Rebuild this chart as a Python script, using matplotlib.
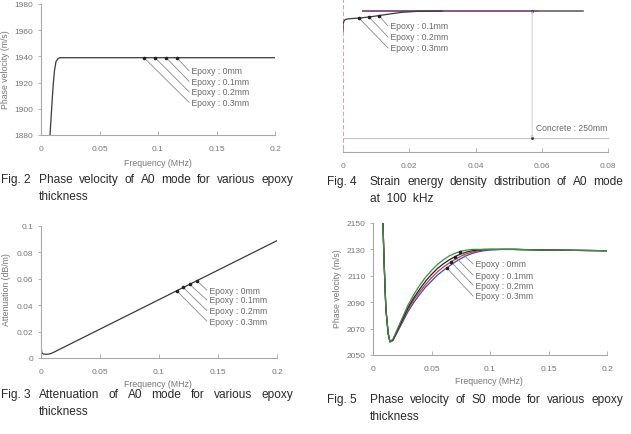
import numpy as np
import matplotlib.pyplot as plt

W, H = 631, 435
plt.rcParams['font.family'] = ['Liberation Sans', 'DejaVu Sans']

# ---- values ----
epoxy_labels = ['Epoxy : 0mm', 'Epoxy : 0.1mm', 'Epoxy : 0.2mm', 'Epoxy : 0.3mm']

# Fig. 2 : A0 phase velocity (all epoxy cases lie on top of each other)
f2_freq = [0.0077, 0.0084, 0.0091, 0.0098, 0.0105, 0.0115, 0.0128, 0.0145, 0.0162, 0.2]
f2_vel = [1880, 1890, 1900, 1910, 1919, 1929, 1936, 1938.3, 1939, 1939]
f2_mark_x = [0.116, 0.107, 0.0975, 0.088]
f2_label_y = [1929, 1921, 1913, 1905]

# Fig. 3 : A0 attenuation
f3_freq = [0, 0.0005, 0.001, 0.002, 0.004, 0.006, 0.008, 0.01, 0.2]
f3_att = [0.012, 0.005, 0.0035, 0.003, 0.0028, 0.0029, 0.0033, 0.004, 0.0889]
f3_mark_x = [0.132, 0.126, 0.1206, 0.115]
f3_label_y = [0.0515, 0.044, 0.036, 0.028]

# Fig. 4 : strain energy density vs depth (mm)
f4_energy = [0, 0, 0.0002, 0.0006, 0.0015, 0.003, 0.0051, 0.008, 0.0106, 0.014, 0.0178, 0.0226, 0.03]
f4_depth = [40, 26, 21.7, 17.1, 15.5, 14.7, 13.8, 11.7, 9.3, 6, 2.6, 0.6, 0]
f4_top_x = [0.006, 0.0725]
f4_top_x_epoxy = [0.006, 0.059]
f4_mark_x = [0.01087, 0.00785, 0.00483]
f4_label_y = [29.5, 51.2, 72.8]
concrete_mm = 250
concrete_x = 0.0571

# Fig. 5 : S0 phase velocity
f5_freq = [0.0085, 0.0095, 0.011, 0.013, 0.0145, 0.017, 0.02, 0.025, 0.03, 0.035, 0.04, 0.045,
           0.05, 0.055, 0.06, 0.065, 0.07, 0.075, 0.08, 0.085, 0.09, 0.095, 0.1, 0.11, 0.12, 0.15, 0.2]
f5_vel_0 = [2150, 2120, 2085, 2066, 2060, 2062, 2068, 2078, 2088, 2096, 2103, 2109,
            2114, 2118.5, 2122, 2125, 2127, 2128.6, 2129.5, 2130, 2130, 2130, 2130, 2130, 2130, 2129.5, 2129]
f5_vel_1 = [2150, 2120, 2085, 2066, 2060, 2061.5, 2067, 2076.5, 2086, 2093.5, 2100, 2106,
            2111, 2115.5, 2119, 2122, 2124.5, 2126.5, 2128, 2129, 2129.6, 2130, 2130, 2130, 2130, 2129.5, 2129]
f5_vel_2 = [2150, 2120, 2085, 2066, 2060, 2061, 2066.5, 2075.5, 2084.5, 2092, 2098, 2103.5,
            2108.5, 2113, 2116.5, 2119.6, 2122.3, 2124.8, 2126.7, 2128, 2129, 2129.6, 2130, 2130, 2130, 2129.5, 2129]
f5_vel_3 = [2150, 2120, 2085, 2066, 2060, 2061, 2066, 2074.5, 2083, 2090, 2096, 2101.5,
            2106, 2110.5, 2114, 2117.3, 2120.3, 2123, 2125.3, 2127, 2128.2, 2129, 2129.5, 2130, 2130, 2129.5, 2129]
f5_mark_x = [0.0744, 0.070, 0.0667, 0.063]
f5_label_y = [2119, 2110.6, 2103, 2094.7]
f5_colors = ['#3d8c45', '#222222', '#cc3b3b', '#3a48b8']

freq_ticks = [0, 0.05, 0.1, 0.15, 0.2]
freq_ticklabels = ['0', '0.05', '0.1', '0.15', '0.2']

AX_C = '#a8a8a8'
TXT_C = '#777777'
LINE_C = '#3a3a3a'
CAP_C = '#2a2a2a'
CAP_FS = 8.6


def box(left, top, right, bottom):
    return [left / W, 1 - bottom / H, (right - left) / W, (bottom - top) / H]


def style(ax):
    ax.spines['top'].set_visible(False)
    ax.spines['right'].set_visible(False)
    for s in ['left', 'bottom']:
        ax.spines[s].set_color(AX_C)
        ax.spines[s].set_linewidth(0.8)
    ax.tick_params(colors=AX_C, labelcolor=TXT_C, labelsize=6, width=0.6)
    ax.tick_params(axis='x', direction='in', length=3, pad=7)
    ax.tick_params(axis='y', direction='out', length=2.5, pad=3)


def leaders(ax, xs, ys, lab_x, lab_ys, labels):
    for x, y, ly, lab in zip(xs, ys, lab_ys, labels):
        ax.plot([x, lab_x], [y, ly], color='#8a8a8a', lw=0.6)
        ax.plot(x, y, 'o', color='#222222', ms=1.6)
        ax.text(lab_x, ly, ' ' + lab, fontsize=6.2, color='#6a6a6a', va='center', ha='left')


def ftext(x, y, s, **kw):
    return fig.text(x / W, 1 - y / H, s, **kw)


fig = plt.figure(figsize=(W / 100, H / 100), dpi=100)

# ---- Fig. 2 ----
ax2 = fig.add_axes(box(41, 5, 275, 136))
style(ax2)
ax2.plot(f2_freq, f2_vel, color=LINE_C, lw=0.9)
ax2.set_xlim(0, 0.2)
ax2.set_ylim(1880, 1980)
ax2.set_xticks(freq_ticks)
ax2.set_xticklabels(freq_ticklabels)
ax2.set_yticks(range(1880, 1981, 20))
leaders(ax2, f2_mark_x, np.interp(f2_mark_x, f2_freq, f2_vel), 0.1265, f2_label_y, epoxy_labels)
ftext(158, 163, 'Frequency (MHz)', fontsize=6.3, color=TXT_C, ha='center', va='center')
ftext(6, 70, 'Phase velocity (m/s)', fontsize=6.3, color=TXT_C, ha='center', va='center', rotation=90)

# ---- Fig. 3 ----
ax3 = fig.add_axes(box(41, 227, 277, 359))
style(ax3)
ax3.plot(f3_freq, f3_att, color=LINE_C, lw=0.9)
ax3.set_xlim(0, 0.2)
ax3.set_ylim(0, 0.1)
ax3.set_xticks(freq_ticks)
ax3.set_xticklabels(freq_ticklabels)
ax3.set_yticks([0, 0.02, 0.04, 0.06, 0.08, 0.1])
ax3.set_yticklabels(['0', '0.02', '0.04', '0.06', '0.08', '0.1'])
leaders(ax3, f3_mark_x, np.interp(f3_mark_x, f3_freq, f3_att), 0.1405, f3_label_y, epoxy_labels)
ftext(158, 385, 'Frequency (MHz)', fontsize=6.3, color=TXT_C, ha='center', va='center')
ftext(7, 290, 'Attenuation (dB/m)', fontsize=6.3, color=TXT_C, ha='center', va='center', rotation=90)

# ---- Fig. 4 ----
ax4 = fig.add_axes(box(343, 0, 608, 153))
style(ax4)
ax4.spines['left'].set_visible(False)
ax4.set_yticks([])
ax4.set_xlim(0, 0.08)
ax4.set_ylim(277.6, -23.6)
ax4.set_xticks([0, 0.02, 0.04, 0.06, 0.08])
ax4.set_xticklabels(['0', '0.02', '0.04', '0.06', '0.08'])
ax4.axvline(0, ymin=0.02, ymax=1, color='#d9a3ad', lw=0.8, ls=(0, (4, 2)))
ax4.plot([0, 0.08], [concrete_mm, concrete_mm], color='#c4c4c4', lw=0.8, clip_on=False)
ax4.plot(f4_top_x, [0, 0], color='#555555', lw=1.1)
ax4.plot(f4_top_x_epoxy, [0, 0], color='#8a5a8c', lw=1.4)
ax4.plot(f4_energy, f4_depth, color=LINE_C, lw=0.9)
ax4.annotate('', xy=(concrete_x, 0), xytext=(concrete_x, concrete_mm),
             arrowprops=dict(arrowstyle='<|-|>', color='#c8c8c8', lw=0.6, mutation_scale=3,
                             shrinkA=0, shrinkB=0))
ax4.plot([concrete_x, concrete_x], [0, concrete_mm], 'o', color='#444444', ms=1.2)
ax4.text(concrete_x + 0.0012, 230, 'Concrete : 250mm', fontsize=6.2, color='#6a6a6a', va='center')
leaders(ax4, f4_mark_x, np.interp(f4_mark_x, f4_energy[1:], f4_depth[1:]), 0.01358,
        f4_label_y, epoxy_labels[1:])

# ---- Fig. 5 ----
ax5 = fig.add_axes(box(373, 224, 607, 356))
style(ax5)
f5_series = [f5_vel_0, f5_vel_1, f5_vel_2, f5_vel_3]
for vel, col in list(zip(f5_series, f5_colors))[::-1]:
    ax5.plot(f5_freq, vel, color=col, lw=0.9)
ax5.set_xlim(0, 0.2)
ax5.set_ylim(2050, 2150)
ax5.set_xticks(freq_ticks)
ax5.set_xticklabels(freq_ticklabels)
ax5.set_yticks(range(2050, 2151, 20))
f5_mark_y = [np.interp(mx, f5_freq, v) for mx, v in zip(f5_mark_x, f5_series)]
leaders(ax5, f5_mark_x, f5_mark_y, 0.0855, f5_label_y, epoxy_labels)
ftext(489, 382, 'Frequency (MHz)', fontsize=6.3, color=TXT_C, ha='center', va='center')
ftext(338, 289, 'Phase velocity (m/s)', fontsize=6.3, color=TXT_C, ha='center', va='center', rotation=90)

# ---- captions (justified first line, indented second line) ----
renderer = fig.canvas.get_renderer()


def caption(num, x_num, x0, x1, y, line1, line2):
    kw = dict(fontsize=CAP_FS, color=CAP_C, va='center')
    ftext(x_num, y, num, **kw)
    words = line1.split()
    texts = [ftext(x0, y, w, **kw) for w in words]
    widths = [t.get_window_extent(renderer).width for t in texts]
    gap = (x1 - x0 - sum(widths)) / (len(words) - 1)
    x = x0
    for t, w in zip(texts, widths):
        t.set_x(x / W)
        x += w + gap
    ftext(x0, y + 17, line2, **kw)


caption('Fig. 2', 1, 39, 293, 180, 'Phase velocity of A0 mode for various epoxy', 'thickness')
caption('Fig. 3', 1, 39, 293, 395, 'Attenuation of A0 mode for various epoxy', 'thickness')
caption('Fig. 4', 327, 370, 623, 182, 'Strain energy density distribution of A0 mode', 'at  100  kHz')
caption('Fig. 5', 327, 370, 623, 400, 'Phase velocity of S0 mode for various epoxy', 'thickness')

fig.savefig('out.png', dpi=100)
